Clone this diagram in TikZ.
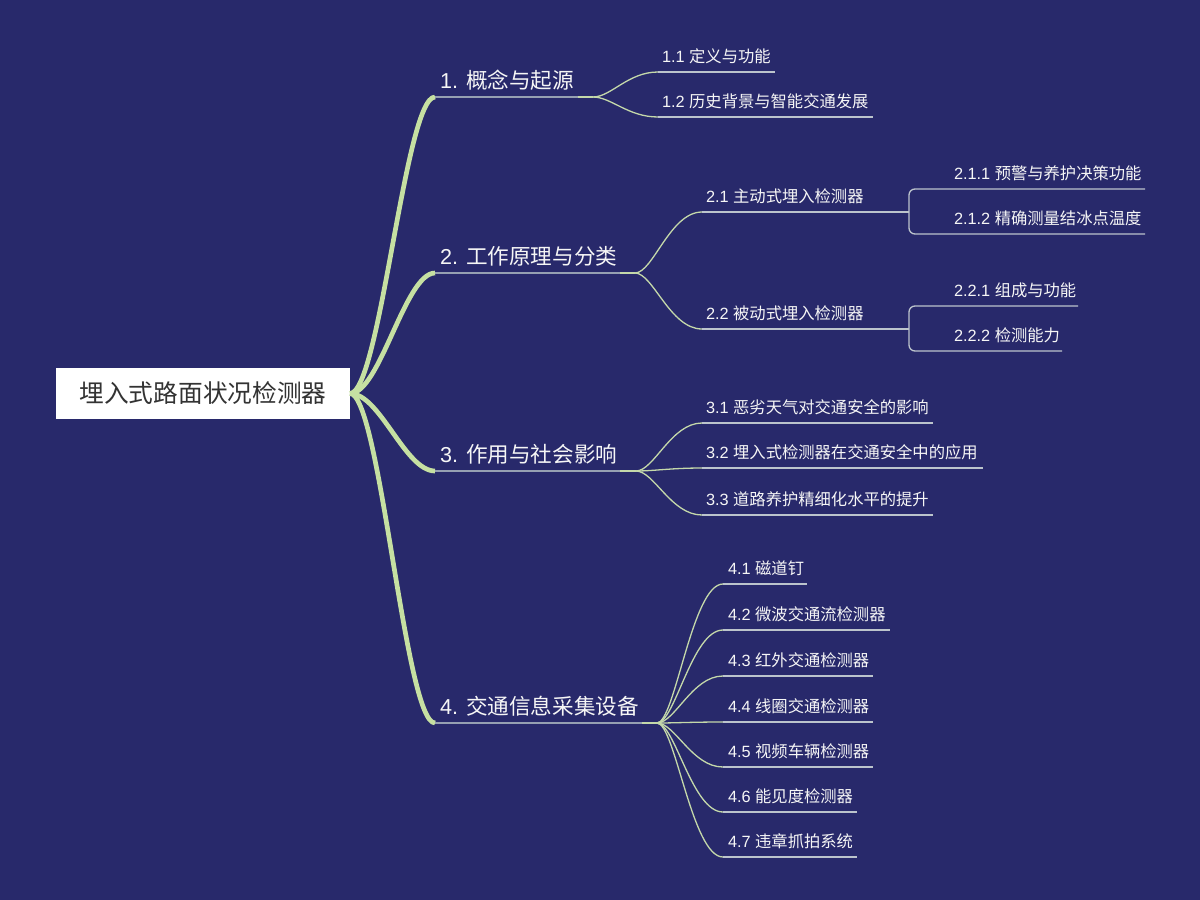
\documentclass[tikz,border=0pt]{standalone}
\usepackage{fontspec}
\setmainfont{Liberation Sans}
\newfontfamily\cjk{Noto Sans CJK SC}
\usetikzlibrary{calc}
\definecolor{bg}{RGB}{40,41,107}
\definecolor{limbc}{RGB}{198,224,162}
\definecolor{twigc}{RGB}{196,216,170}
\definecolor{l1c}{RGB}{150,160,178}
\definecolor{ulc}{RGB}{188,196,204}
\definecolor{txt}{RGB}{246,246,246}
\definecolor{rootink}{RGB}{51,51,51}
\newcommand\zh[1]{{\cjk #1}}
\newcommand\mmmain[5]{%
  \coordinate (#1s) at (435,#2);
  \coordinate (#1g) at (#3,#2);
  \coordinate (#1f) at (#4,#2);
  \draw[limb] (rootout) .. controls (380,393.5) and (405,#2) .. (#1s);
  \draw[l1line] (#1s) -- (#1g);
  \draw[twig] (#1g) -- (#1f);
  \node[l1text] (#1) at ($(#1s)+(5,-9)$) {#5};
}
\newcommand\mmsub[7]{%
  \coordinate (#1s) at (#4,#3);
  \coordinate (#1e) at (#5,#3);
  \draw[twig] (#2) .. controls ($(#2)+(18,0)$) and ($(#2 |- #1s)+(35,0)$) .. (#1s);
  \draw[uline] (#1s) -- (#1e);
  \node[l2text] (#1) at ($(#1s)+(#6,-10)$) {#7};
}
\newcommand\mmleaf[4]{%
  \coordinate (#1s) at (950,#2);
  \coordinate (#1e) at (#3,#2);
  \node[l2text] (#1) at ($(#1s)+(4,-10)$) {#4};
}
\begin{document}
\begin{tikzpicture}[x=1pt,y=-1pt,
  every node/.style={inner sep=0pt,outer sep=0pt},
  rootbox/.style={fill=white,minimum width=294pt,minimum height=51pt,text=rootink,font=\cjk\fontsize{24.7}{28}\selectfont},
  l1text/.style={anchor=base west,text=txt,font=\fontsize{21.6}{25}\selectfont},
  l2text/.style={anchor=base west,text=txt,font=\fontsize{16.3}{19}\selectfont},
  limb/.style={draw=limbc,line width=4.7pt,line cap=butt},
  l1line/.style={draw=l1c,line width=2pt},
  twig/.style={draw=twigc,line width=1.3pt},
  uline/.style={draw=ulc,line width=1.3pt}]
\fill[bg] (0,0) rectangle (1200,900);
\useasboundingbox (0,0) rectangle (1200,900);

\node[rootbox] (root) at (203,393.5) {埋入式路面状况检测器};
\coordinate (rootout) at (350,393.5);

\mmmain{b1}{97}{578}{593}{1. \zh{概念与起源}}
\mmmain{b2}{273}{620}{635}{2. \zh{工作原理与分类}}
\mmmain{b3}{471}{620}{636}{3. \zh{作用与社会影响}}
\mmmain{b4}{723}{642}{657}{4. \zh{交通信息采集设备}}

\mmsub{c11}{b1f}{72}{658}{775}{4}{1.1 \zh{定义与功能}}
\mmsub{c12}{b1f}{117}{658}{873}{4}{1.2 \zh{历史背景与智能交通发展}}
\mmsub{c21}{b2f}{212}{702}{909}{4}{2.1 \zh{主动式埋入检测器}}
\mmsub{c22}{b2f}{329}{702}{909}{4}{2.2 \zh{被动式埋入检测器}}
\mmsub{c31}{b3f}{423}{702}{933}{4}{3.1 \zh{恶劣天气对交通安全的影响}}
\mmsub{c32}{b3f}{468}{702}{983}{4}{3.2 \zh{埋入式检测器在交通安全中的应用}}
\mmsub{c33}{b3f}{515}{702}{933}{4}{3.3 \zh{道路养护精细化水平的提升}}
\mmsub{c41}{b4f}{584}{723}{807}{5}{4.1 \zh{磁道钉}}
\mmsub{c42}{b4f}{630}{723}{890}{5}{4.2 \zh{微波交通流检测器}}
\mmsub{c43}{b4f}{676}{723}{873}{5}{4.3 \zh{红外交通检测器}}
\mmsub{c44}{b4f}{722}{723}{873}{5}{4.4 \zh{线圈交通检测器}}
\mmsub{c45}{b4f}{767}{723}{873}{5}{4.5 \zh{视频车辆检测器}}
\mmsub{c46}{b4f}{812}{723}{857}{5}{4.6 \zh{能见度检测器}}
\mmsub{c47}{b4f}{857}{723}{857}{5}{4.7 \zh{违章抓拍系统}}

\mmleaf{d211}{189}{1145}{2.1.1 \zh{预警与养护决策功能}}
\mmleaf{d212}{234}{1145}{2.1.2 \zh{精确测量结冰点温度}}
\mmleaf{d221}{306}{1078}{2.2.1 \zh{组成与功能}}
\mmleaf{d222}{351}{1062}{2.2.2 \zh{检测能力}}

\draw[uline,rounded corners=6pt] (d211e) -- (c21e |- d211e) -- (c21e |- d212e) -- (d212e);
\draw[uline,rounded corners=6pt] (d221e) -- (c22e |- d221e) -- (c22e |- d222e) -- (d222e);
\end{tikzpicture}
\end{document}
